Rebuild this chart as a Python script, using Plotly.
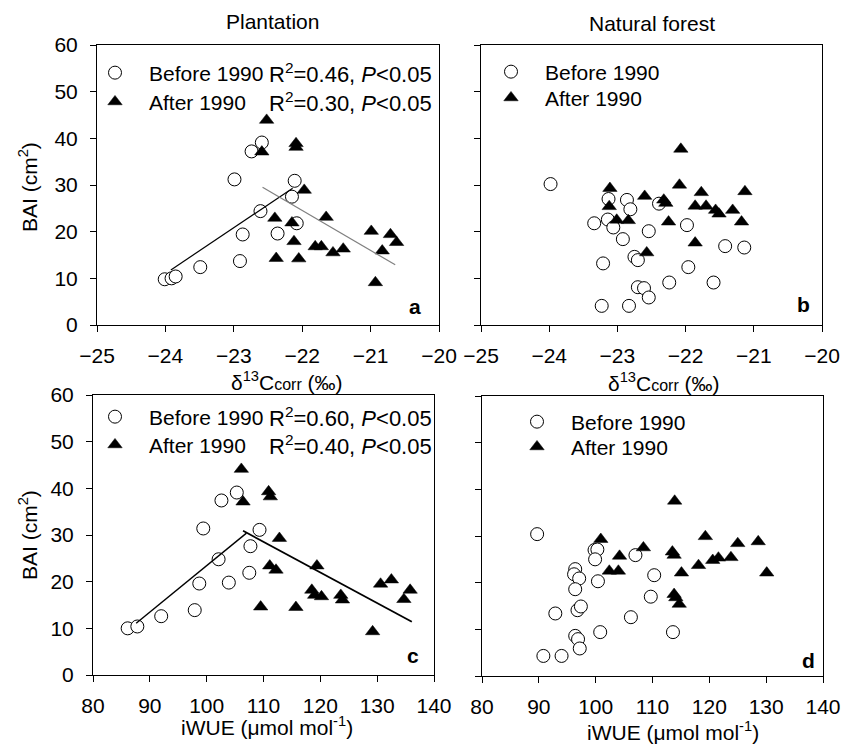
import plotly.graph_objects as go

W, H = 843, 749

# ---------------- data ----------------
# Panel a: Plantation, d13C_corr vs BAI
a_before_x = [-24.01, -23.91, -23.85, -23.49, -22.99, -22.91, -22.87, -22.74, -22.59, -22.61, -22.36, -22.15, -22.11, -22.08]
a_before_y = [9.8, 10.0, 10.4, 12.4, 31.2, 13.7, 19.4, 37.2, 39.1, 24.4, 19.6, 27.5, 30.9, 21.8]
a_after_x = [-22.52, -22.59, -22.09, -22.09, -21.97, -22.40, -22.15, -22.12, -22.38, -22.05,
             -21.65, -21.81, -21.72, -21.55, -21.40, -20.99, -20.93, -20.83, -20.71, -20.62]
a_after_y = [43.9, 37.1, 38.9, 38.1, 28.9, 22.9, 21.9, 17.9, 14.3, 14.2,
             23.1, 16.8, 16.8, 15.5, 16.3, 20.1, 9.1, 15.9, 19.4, 17.7]
a_fit_before_x = [-23.92, -22.14]
a_fit_before_y = [11.8, 29.3]
a_fit_after_x = [-22.58, -20.64]
a_fit_after_y = [29.5, 12.9]

# Panel b: Natural forest, d13C_corr vs BAI
b_before_x = [-23.98, -23.34, -23.21, -23.23, -23.13, -23.14, -23.06, -22.92, -22.86, -22.81, -22.75, -22.70,
              -22.70, -22.61, -22.83, -22.54, -22.54, -22.39, -22.24, -21.98, -21.96, -21.59, -21.42, -21.14]
b_before_y = [30.2, 21.8, 13.2, 4.1, 27.0, 22.6, 20.9, 18.4, 26.8, 24.8, 14.6, 13.9,
              8.1, 7.9, 4.1, 5.9, 20.1, 26.0, 9.1, 21.4, 12.4, 9.1, 16.9, 16.6]
b_after_x = [-23.11, -23.12, -23.01, -22.84, -22.60, -22.57, -22.32, -22.29, -22.25, -22.07,
             -22.09, -21.86, -21.86, -21.77, -21.70, -21.56, -21.51, -21.31, -21.18, -21.13]
b_after_y = [29.3, 25.4, 22.5, 22.4, 27.6, 15.5, 26.8, 26.1, 22.1, 37.7,
             30.0, 17.6, 25.5, 28.4, 25.5, 24.6, 23.8, 24.6, 22.1, 28.6]

# Panel c: Plantation, iWUE vs BAI
c_before_x = [86.1, 87.8, 92.0, 97.9, 98.7, 99.4, 102.1, 103.9, 102.6, 105.3, 107.5, 107.7, 109.3]
c_before_y = [10.0, 10.4, 12.6, 13.9, 19.6, 31.4, 24.8, 19.8, 37.4, 39.1, 21.9, 27.6, 31.1]
c_after_x = [106.1, 106.4, 110.9, 111.2, 112.8, 111.1, 112.2, 109.5, 115.7, 119.4,
             118.5, 119.0, 120.2, 123.6, 123.9, 129.2, 130.6, 132.5, 134.7, 135.8]
c_after_y = [44.1, 37.1, 39.3, 38.2, 29.3, 23.4, 22.5, 14.6, 14.5, 23.4,
             18.2, 17.1, 16.8, 17.1, 16.1, 9.3, 19.5, 20.4, 16.2, 18.2]
c_fit_before_x = [87.6, 107.0]
c_fit_before_y = [11.1, 30.4]
c_fit_after_x = [106.4, 136.1]
c_fit_after_y = [30.9, 11.4]

# Panel d: Natural forest, iWUE vs BAI
d_before_x = [89.7, 90.8, 94.0, 92.9, 96.4, 96.2, 97.1, 96.4, 96.8, 97.4, 96.4, 96.9,
              97.2, 99.8, 100.3, 99.9, 100.4, 100.8, 106.2, 107.0, 109.7, 110.3, 113.6]
d_before_y = [30.4, 4.3, 4.3, 13.4, 22.9, 21.8, 20.9, 18.6, 14.1, 14.9, 8.6, 7.9,
              5.9, 27.0, 27.1, 25.0, 20.3, 9.4, 12.6, 25.9, 17.0, 21.6, 9.4]
d_after_x = [100.9, 102.4, 104.0, 104.2, 108.4, 113.9, 113.5, 113.8, 115.1, 113.8,
             114.1, 114.7, 118.1, 119.3, 120.6, 121.6, 123.8, 125.0, 128.6, 130.1]
d_after_y = [29.3, 22.5, 22.5, 25.7, 27.5, 37.5, 26.6, 25.9, 22.1, 17.5,
             16.8, 15.4, 23.7, 29.9, 24.8, 25.3, 25.4, 28.4, 28.8, 22.1]

group_names = ["Before 1990", "After 1990"]
r2_texts = {"a": ["R<sup>2</sup>=0.46, <i>P</i><0.05", "R<sup>2</sup>=0.30, <i>P</i><0.05"],
            "c": ["R<sup>2</sup>=0.60, <i>P</i><0.05", "R<sup>2</sup>=0.40, <i>P</i><0.05"]}
column_titles = ["Plantation", "Natural forest"]
d13c_ticks = [-25, -24, -23, -22, -21, -20]
iwue_ticks = [80, 90, 100, 110, 120, 130, 140]
bai_ticks = [0, 10, 20, 30, 40, 50, 60]

FONT = "Liberation Sans, Arial, sans-serif"


def px(x):
    return x / W


def py(y):
    return 1 - y / H


fig = go.Figure()

# axis domains from pixel boxes
boxes = {
    "a": dict(x0=97, x1=439, y0=45, y1=325),
    "b": dict(x0=481, x1=822, y0=45, y1=325),
    "c": dict(x0=93, x1=434, y0=395, y1=675),
    "d": dict(x0=482, x1=823, y0=396, y1=676),
}
axis_ids = {"a": ("x", "y"), "b": ("x2", "y2"), "c": ("x3", "y3"), "d": ("x4", "y4")}

circle = dict(symbol="circle", size=13, color="white", line=dict(color="black", width=1))
tri = dict(symbol="triangle-up", size=12.5, color="black", line=dict(color="black", width=0.5))

panel_data = {
    "a": (a_before_x, a_before_y, a_after_x, a_after_y),
    "b": (b_before_x, b_before_y, b_after_x, b_after_y),
    "c": (c_before_x, c_before_y, c_after_x, c_after_y),
    "d": (d_before_x, d_before_y, d_after_x, d_after_y),
}

# legend row positions (pixel): symbol center x, row y centers
legend_rows = {
    "a": (115, [73, 102]),
    "b": (511, [72, 98]),
    "c": (115, [417, 445]),
    "d": (537, [422, 447]),
}
ITEMW = 58
SYM_OFF = ITEMW / 2 + 5

legend_i = 1
layout_legends = {}
for key in ["a", "b", "c", "d"]:
    xa, ya = axis_ids[key]
    bx, by, ax_, ay_ = panel_data[key]
    sx, rows = legend_rows[key]
    for gi, (xs, ys, mk) in enumerate([(bx, by, circle), (ax_, ay_, tri)]):
        lname = "legend" if legend_i == 1 else f"legend{legend_i}"
        fig.add_trace(go.Scatter(x=xs, y=ys, mode="markers", marker=mk, name=group_names[gi],
                                 xaxis=xa, yaxis=ya, legend=lname, showlegend=True))
        layout_legends[lname] = dict(
            x=px(sx - SYM_OFF), y=py(rows[gi]), xanchor="left", yanchor="middle",
            bgcolor="rgba(0,0,0,0)", borderwidth=0, itemwidth=ITEMW,
            font=dict(family=FONT, size=21, color="black"), itemclick=False,
        )
        legend_i += 1

# regression lines
fig.add_trace(go.Scatter(x=a_fit_before_x, y=a_fit_before_y, mode="lines", line=dict(color="black", width=1.2),
                         xaxis="x", yaxis="y", showlegend=False))
fig.add_trace(go.Scatter(x=a_fit_after_x, y=a_fit_after_y, mode="lines", line=dict(color="#808080", width=1.2),
                         xaxis="x", yaxis="y", showlegend=False))
fig.add_trace(go.Scatter(x=c_fit_before_x, y=c_fit_before_y, mode="lines", line=dict(color="black", width=1.4),
                         xaxis="x3", yaxis="y3", showlegend=False))
fig.add_trace(go.Scatter(x=c_fit_after_x, y=c_fit_after_y, mode="lines", line=dict(color="black", width=1.8),
                         xaxis="x3", yaxis="y3", showlegend=False))

common_axis = dict(showline=True, linecolor="black", linewidth=1, mirror=True, ticks="outside",
                   ticklen=6, tickwidth=1, tickcolor="black", showgrid=False, zeroline=False,
                   automargin=False,
                   tickfont=dict(family=FONT, size=21, color="black"))

layout = dict(width=W, height=H, margin=dict(l=0, r=0, t=0, b=0, autoexpand=False),
              paper_bgcolor="white", plot_bgcolor="white",
              font=dict(family=FONT, size=20, color="black"))

for key in ["a", "b", "c", "d"]:
    xa, ya = axis_ids[key]
    b = boxes[key]
    xname = "xaxis" if xa == "x" else "xaxis" + xa[1:]
    yname = "yaxis" if ya == "y" else "yaxis" + ya[1:]
    is_d13 = key in ("a", "b")
    layout[xname] = dict(common_axis, domain=[px(b["x0"]), px(b["x1"])], anchor=ya,
                         range=[-25, -20] if is_d13 else [80, 140],
                         tickvals=d13c_ticks if is_d13 else iwue_ticks,
                         ticklabelstandoff=6)
    layout[yname] = dict(common_axis, domain=[py(b["y1"]), py(b["y0"])], anchor=xa,
                         range=[0, 60], tickvals=bai_ticks,
                         showticklabels=key in ("a", "c"), ticklabelstandoff=8)

layout.update(layout_legends)
fig.update_layout(**layout)

ann = []
# column titles
ann.append(dict(x=px(272), y=py(21), text=column_titles[0]))
ann.append(dict(x=px(652), y=py(23), text=column_titles[1]))
# x axis titles
d13_title = "δ<sup>13</sup>C<span style='font-size:16px'>corr</span> (‰)"
ann.append(dict(x=px(287), y=py(381), text=d13_title))
ann.append(dict(x=px(664), y=py(382), text=d13_title))
iwue_title = "iWUE (μmol mol<sup>-1</sup>)"
ann.append(dict(x=px(267), y=py(726), text=iwue_title))
ann.append(dict(x=px(673), y=py(731), text=iwue_title))
# y axis titles
ann.append(dict(x=px(28), y=py(187), text="BAI (cm<sup>2</sup>)", textangle=-90))
ann.append(dict(x=px(28), y=py(535), text="BAI (cm<sup>2</sup>)", textangle=-90))
# R2 texts (right aligned)
for key, rows in (("a", [73, 102]), ("c", [417, 445])):
    for i, t in enumerate(r2_texts[key]):
        ann.append(dict(x=px(434), y=py(rows[i]), text=t, xanchor="right", size=22))
# panel letters
for letter, (lx, ly) in {"a": (415, 306), "b": (803, 304), "c": (413, 655), "d": (808, 660)}.items():
    ann.append(dict(x=px(lx), y=py(ly), text=f"<b>{letter}</b>"))

for a in ann:
    a.setdefault("xanchor", "center")
    fs = a.pop("size", 21)
    a.update(xref="paper", yref="paper", yanchor="middle", showarrow=False,
             font=dict(family=FONT, size=fs, color="black"))
fig.update_layout(annotations=ann)

fig.write_html("out.html", config={"displayModeBar": False},
               post_script="document.body.style.margin='0px';document.body.style.overflow='hidden';")
